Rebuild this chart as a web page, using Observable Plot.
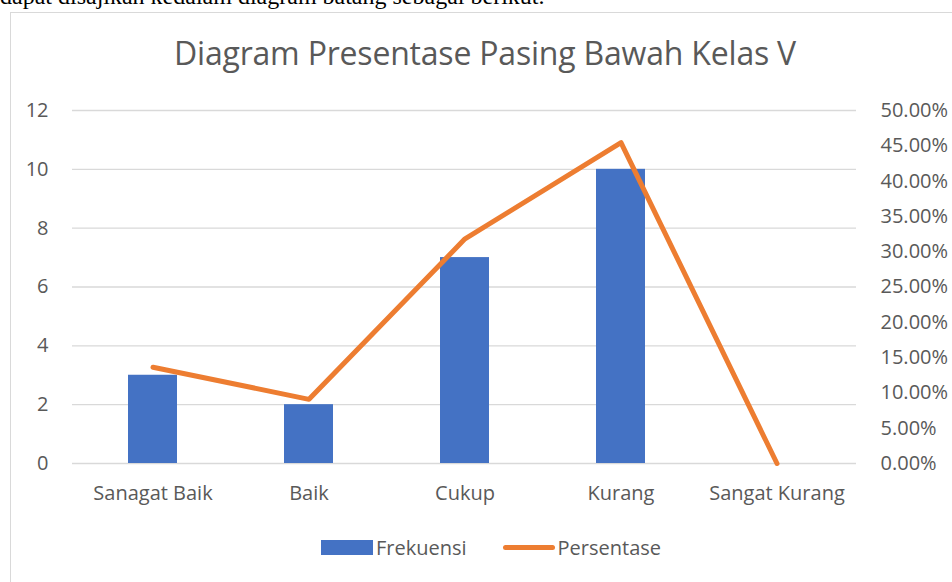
<!DOCTYPE html>
<html><head><meta charset="utf-8">
<script src="https://cdn.jsdelivr.net/npm/d3@7"></script>
<script src="https://cdn.jsdelivr.net/npm/@observablehq/plot@0.6"></script>
<style>
body{margin:0;background:#fff;width:952px;height:582px;overflow:hidden;position:relative;font-family:"Open Sans",sans-serif;}
#intro{position:absolute;left:0;top:-17px;font-family:"Liberation Serif",serif;font-size:24px;color:#000;white-space:nowrap;}
#frame{position:absolute;left:10px;top:12px;width:960px;height:600px;border:1px solid #d9d9d9;box-sizing:border-box;}
#title{position:absolute;left:9px;width:952px;top:31px;text-align:center;font-size:32px;color:#595959;letter-spacing:-0.2px;}
#chart{position:absolute;left:0;top:0;}
#legend{position:absolute;top:534px;left:15px;width:952px;display:flex;justify-content:center;align-items:center;font-size:20px;color:#595959;}
.sw{display:inline-block;margin-right:3px;}
</style></head>
<body>
<div id="intro">dapat disajikan kedalam diagram batang sebagai berikut.</div>
<div id="frame"></div>
<div id="chart"></div>
<div id="title">Diagram Presentase Pasing Bawah Kelas V</div>
<div id="legend"></div>
<script>
const categories = ["Sanagat Baik", "Baik", "Cukup", "Kurang", "Sangat Kurang"];
const frekuensi = [3, 2, 7, 10, 0];
const persentase = [13.64, 9.09, 31.82, 45.45, 0];
const leftTicks = [0, 2, 4, 6, 8, 10, 12];
const rightTicks = [0, 5, 10, 15, 20, 25, 30, 35, 40, 45, 50];
const seriesNames = ["Frekuensi", "Persentase"];
const colors = ["#4472c4", "#ed7d31"];

const k = 12 / 50; // percent -> left units
const data = categories.map((c, i) => ({c, f: frekuensi[i], p: persentase[i] * k}));

const plot = Plot.plot({
  width: 952, height: 582,
  marginLeft: 72, marginRight: 96, marginTop: 110, marginBottom: 119,
  style: {fontFamily: "'Open Sans', sans-serif", fontSize: "20px", color: "#595959", background: "transparent"},
  x: {domain: categories, paddingInner: 0.6875, paddingOuter: 0.34375, label: null},
  y: {domain: [0, 12], label: null},
  marks: [
    Plot.ruleY(leftTicks, {stroke: "#d9d9d9", strokeWidth: 1.3}),
    Plot.barY(data, {x: "c", y: "f", fill: colors[0]}),
    Plot.line(data, {x: "c", y: "p", stroke: colors[1], strokeWidth: 5, strokeLinecap: "round", strokeLinejoin: "round"}),
    Plot.axisY(leftTicks, {anchor: "left", tickSize: 0, tickPadding: 24, label: null, fill: "#595959"}),
    Plot.axisY(rightTicks.map(t => t * k), {anchor: "right", tickSize: 0, tickPadding: 24, label: null, fill: "#595959",
      tickFormat: d => (Math.round(d / k * 100) / 100).toFixed(2) + "%"}),
    Plot.axisX({tickSize: 0, tickPadding: 22, label: null, fill: "#595959"})
  ]
});
document.getElementById("chart").appendChild(plot);

const lg = document.getElementById("legend");
lg.innerHTML =
  `<span class="sw" style="width:52px;height:15px;background:${colors[0]}"></span><span>${seriesNames[0]}</span>` +
  `<span class="sw" style="width:52px;height:5px;border-radius:3px;background:${colors[1]};margin-left:36px"></span><span>${seriesNames[1]}</span>`;
</script>
</body></html>
